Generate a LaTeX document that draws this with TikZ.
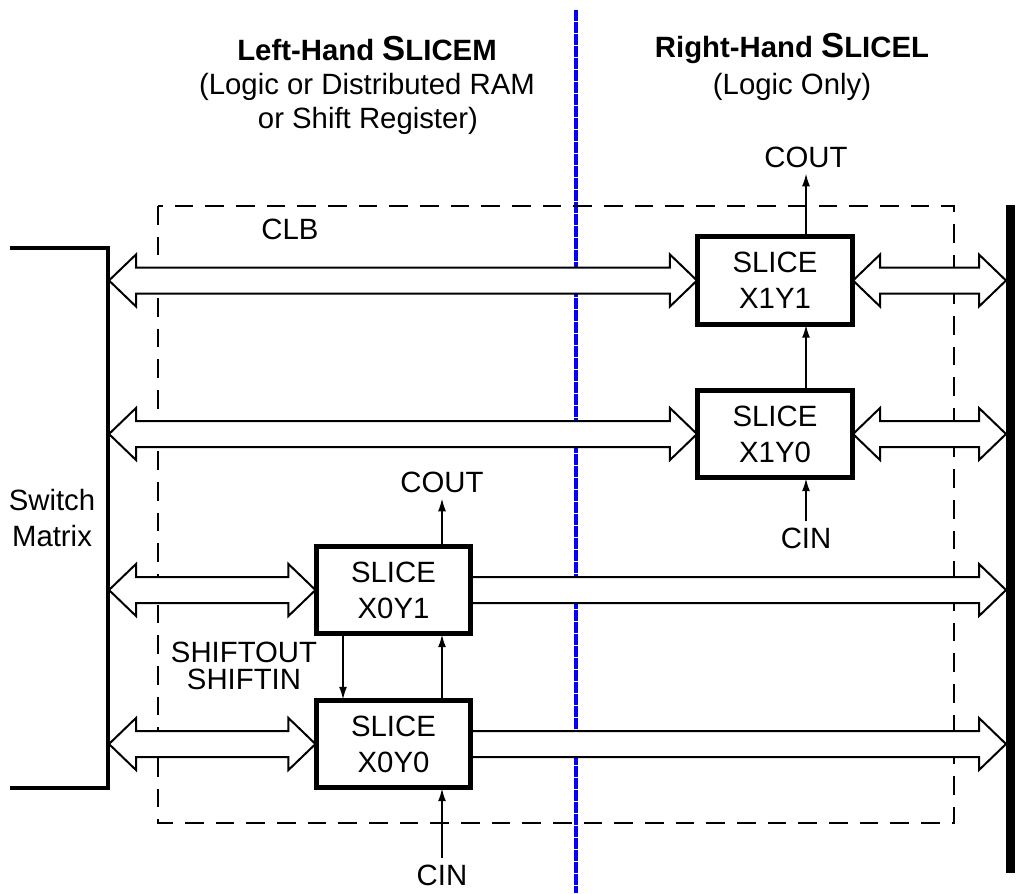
\documentclass[tikz,border=0pt]{standalone}
\usepackage{fontspec}
\setmainfont{Liberation Sans}
\usetikzlibrary{arrows.meta,calc}
\tikzset{
  txt/.style={font=\fontsize{22}{27}\selectfont, align=center, inner sep=0pt},
  slicebox/.style={draw, line width=2.3pt, fill=white, minimum width=153*0.75pt, minimum height=86*0.75pt, font=\fontsize{22}{27}\selectfont, align=center, inner sep=0pt},
  lbl/.style={font=\fontsize{22}{27}\selectfont, inner sep=4.5pt},
  sarrow/.style={line width=1.1pt, -{Latex[length=9.5pt,width=6pt]}},
  arrowbody/.style={draw, line width=1.5pt, fill=white, line join=miter},
  clb/.style={draw, line width=1.4pt, dash pattern=on 14pt off 9pt},
  blueline/.style={draw=blue, line width=2.6pt, dash pattern=on 8pt off 1pt},
}
\newcommand\dblarr[2]{\draw[arrowbody] let \p1=(#1), \p2=(#2) in
  (\x1,\y1) -- ++(20.25pt,19.5pt) -- ++(0,-9.75pt) -- (\x2-20.25pt,\y1+9.75pt) -- ++(0,9.75pt)
  -- (\x2,\y2) -- ++(-20.25pt,-19.5pt) -- ++(0,9.75pt) -- (\x1+20.25pt,\y1-9.75pt) -- ++(0,-9.75pt) -- cycle;}
\newcommand\sglarr[2]{\draw[arrowbody] let \p1=(#1), \p2=(#2) in
  (\x1,\y1+9.75pt) -- (\x2-20.25pt,\y1+9.75pt) -- ++(0,9.75pt)
  -- (\x2,\y2) -- ++(-20.25pt,-19.5pt) -- ++(0,9.75pt) -- (\x1,\y1-9.75pt) -- cycle;}
\begin{document}
\begin{tikzpicture}[x=0.75pt,y=-0.75pt]
\useasboundingbox (0,0) rectangle (1017,893);
% blue divider
\coordinate (bTop) at (576,10);
\coordinate (bBot) at (576,893);
\draw[blueline] (bTop) -- (bBot);
% CLB frame
\draw[clb] (158,206) rectangle (954,823);
\node[txt] (clbl) at (290,229) {CLB};
% headers
\node[txt, font=\fontsize{22}{27}\selectfont\bfseries] (lhT) at (367,49) {Left-Hand {\fontsize{26}{27}\selectfont S}LICEM};
\node[txt] (lhS) at (367,87) {(Logic or Distributed RAM};
\node[txt] (lhS2) at (368,121) {or Shift Register)};
\node[txt, font=\fontsize{22}{27}\selectfont\bfseries] (rhT) at (792,49) {Right-Hand {\fontsize{26}{27}\selectfont S}LICEL};
\node[txt] (rhS) at (792,87) {(Logic Only)};
% switch matrix
\draw[line width=2.3pt] (10,248) -- (108,248) -- (108,788) -- (10,788);
\node[txt] (sm) at (52,518) {Switch\\Matrix};
\coordinate (smA) at (109,280.5);
\coordinate (smB) at (109,434);
\coordinate (smC) at (109,590);
\coordinate (smD) at (109,744);
% right bar
\fill (1006,205) rectangle (1015,873);
\coordinate (rbA) at (1006,280.5);
\coordinate (rbB) at (1006,434);
\coordinate (rbC) at (1006,590);
\coordinate (rbD) at (1006,744);
% slices
\node[slicebox] (s11) at (775,280.5) {SLICE\\X1Y1};
\node[slicebox] (s10) at (775,434) {SLICE\\X1Y0};
\node[slicebox] (s01) at (393.5,590) {SLICE\\X0Y1};
\node[slicebox] (s00) at (393.5,744) {SLICE\\X0Y0};
% wide arrows
\dblarr{smA}{s11.west}
\dblarr{s11.east}{rbA}
\dblarr{smB}{s10.west}
\dblarr{s10.east}{rbB}
\dblarr{smC}{s01.west}
\sglarr{s01.east}{rbC}
\dblarr{smD}{s00.west}
\sglarr{s00.east}{rbD}
% redraw slice borders on top
\foreach \s in {s11,s10,s01,s00} \draw[line width=2.3pt] (\s.north west) rectangle (\s.south east);
% carry labels and arrows
\node[lbl] (coutR) at (806,157) {COUT};
\node[lbl] (cinR) at (806,538) {CIN};
\node[lbl] (coutL) at (442,482) {COUT};
\node[lbl] (cinL) at (442,875) {CIN};
\node[txt, font=\fontsize{22}{20}\selectfont] (shl) at (244,666) {SHIFTOUT\\SHIFTIN};
\coordinate (shx) at (343,0);
\draw[sarrow] (s11.north -| coutR) -- (coutR.south);
\draw[sarrow] (s10.north -| coutR) -- (s11.south -| coutR);
\draw[sarrow] (cinR.north) -- (s10.south -| cinR);
\draw[sarrow] (s01.north -| coutL) -- (coutL.south);
\draw[sarrow] (s00.north -| coutL) -- (s01.south -| coutL);
\draw[sarrow] (cinL.north) -- (s00.south -| cinL);
\draw[sarrow] (s01.south -| shx) -- (s00.north -| shx);
\end{tikzpicture}
\end{document}
